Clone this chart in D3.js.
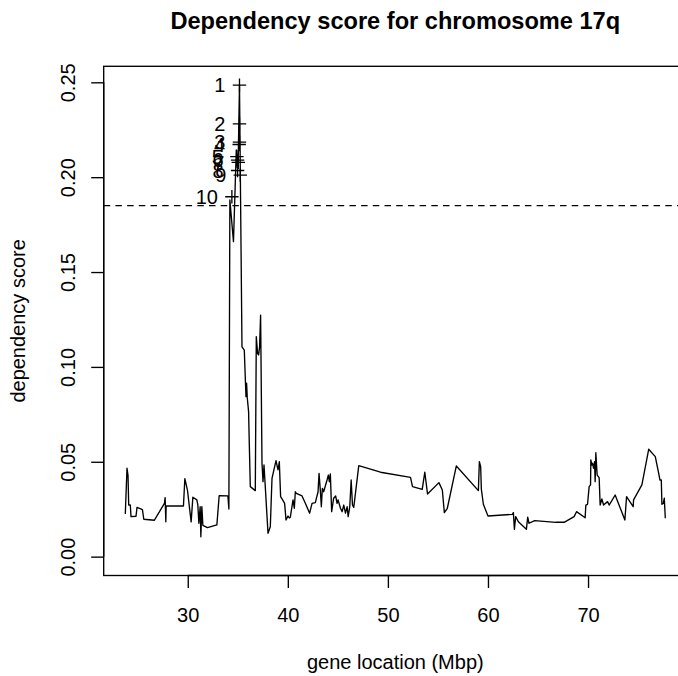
<!DOCTYPE html>
<html>
<head>
<meta charset="utf-8">
<script src="https://cdn.jsdelivr.net/npm/d3@7"></script>
<style>
  html, body { margin: 0; padding: 0; background: #fff; }
  svg { display: block; }
  text { font-family: "Liberation Sans", Arial, Helvetica, sans-serif; fill: #000; }
</style>
</head>
<body>
<svg id="chart" width="678" height="676"></svg>
<script>
// ---- data ----
const geneLocation = [
  23.76, 23.93, 24.03, 24.10, 24.26, 24.33, 24.83, 24.93, 25.47, 25.61,
  26.67, 27.67, 27.74, 27.81, 27.84, 29.57, 29.71, 29.97, 30.34, 30.51,
  30.91, 31.01, 31.11, 31.24, 31.31, 31.41, 31.51, 31.97, 32.91, 33.14,
  34.01, 34.11, 34.21, 34.57, 34.85, 34.95, 35.05, 35.17, 35.42, 35.65,
  35.82, 35.88, 35.95, 36.08, 36.15, 36.25, 36.75, 36.85, 36.98, 37.08,
  37.18, 37.28, 37.42, 37.52, 37.62, 38.02, 38.25, 38.42, 38.82, 39.02,
  39.15, 39.28, 39.48, 39.68, 39.82, 40.02, 40.15, 40.25, 40.52, 40.65,
  40.75, 40.85, 41.42, 41.75, 42.18, 42.42, 42.75, 43.02, 43.12, 43.25,
  43.35, 43.45, 43.58, 43.92, 44.05, 44.15, 44.25, 44.38, 44.58, 44.78,
  44.92, 45.02, 45.26, 45.43, 45.59, 45.76, 45.93, 46.03, 46.19, 46.33,
  46.46, 46.59, 47.09, 49.26, 52.26, 52.46, 53.43, 53.69, 53.96, 55.10,
  55.44, 55.64, 55.94, 56.84, 59.04, 59.14, 59.27, 59.34, 59.54, 60.00,
  62.44, 62.54, 62.64, 62.77, 63.04, 63.84, 63.97, 64.10, 64.67, 66.78,
  67.61, 68.61, 68.85, 69.71, 69.78, 69.95, 70.11, 70.25, 70.28, 70.38,
  70.45, 70.55, 70.65, 70.71, 70.78, 70.91, 71.11, 71.21, 71.38, 71.55,
  71.95, 72.11, 72.71, 73.68, 73.85, 74.51, 74.55, 75.38, 76.06, 76.72,
  77.06, 77.18, 77.32, 77.38, 77.52, 77.62, 77.72
];
const dependencyScore = [
  0.0225, 0.0466, 0.0429, 0.0272, 0.0272, 0.0211, 0.0213, 0.0260, 0.0248, 0.0197,
  0.0192, 0.0281, 0.0311, 0.0184, 0.0267, 0.0267, 0.0411, 0.0351, 0.0183, 0.0313,
  0.0299, 0.0271, 0.0176, 0.0263, 0.0105, 0.0263, 0.0165, 0.0153, 0.0167, 0.0321,
  0.0320, 0.0251, 0.1880, 0.1660, 0.2143, 0.2050, 0.2120, 0.2485, 0.1106, 0.1089,
  0.0843, 0.0914, 0.0836, 0.0764, 0.0597, 0.0369, 0.0348, 0.1159, 0.1070, 0.1063,
  0.1106, 0.1273, 0.0492, 0.0395, 0.0483, 0.0123, 0.0158, 0.0413, 0.0506, 0.0457,
  0.0500, 0.0316, 0.0299, 0.0281, 0.0193, 0.0214, 0.0204, 0.0208, 0.0299, 0.0255,
  0.0342, 0.0334, 0.0320, 0.0281, 0.0229, 0.0281, 0.0285, 0.0342, 0.0439, 0.0348,
  0.0263, 0.0360, 0.0342, 0.0404, 0.0430, 0.0395, 0.0436, 0.0237, 0.0308, 0.0320,
  0.0281, 0.0299, 0.0255, 0.0237, 0.0272, 0.0229, 0.0263, 0.0211, 0.0263, 0.0404,
  0.0272, 0.0260, 0.0480, 0.0445, 0.0418, 0.0369, 0.0355, 0.0445, 0.0330, 0.0390,
  0.0351, 0.0232, 0.0255, 0.0478, 0.0348, 0.0500, 0.0474, 0.0355, 0.0276, 0.0214,
  0.0223, 0.0232, 0.0144, 0.0211, 0.0184, 0.0144, 0.0208, 0.0176, 0.0190, 0.0181,
  0.0181, 0.0211, 0.0237, 0.0205, 0.0272, 0.0276, 0.0369, 0.0378, 0.0510, 0.0483,
  0.0492, 0.0466, 0.0500, 0.0395, 0.0548, 0.0430, 0.0416, 0.0272, 0.0304, 0.0272,
  0.0290, 0.0272, 0.0325, 0.0193, 0.0316, 0.0263, 0.0299, 0.0378, 0.0566, 0.0527,
  0.0439, 0.0404, 0.0404, 0.0276, 0.0281, 0.0308, 0.0202
];
// top-ranked genes (marked with + and rank label)
const topRank     = [1, 2, 3, 4, 5, 6, 7, 8, 9, 10];
const topLocation = [35.17, 35.17, 35.17, 35.14, 34.91, 34.98, 35.05, 34.98, 35.25, 34.41];
const topScore    = [0.2485, 0.2281, 0.2185, 0.2172, 0.2108, 0.2090, 0.2078, 0.2035, 0.2011, 0.1897];
const threshold = 0.185;
const xTicks = [30, 40, 50, 60, 70];
const yTicks = [0.00, 0.05, 0.10, 0.15, 0.20, 0.25];
const titleText = "Dependency score for chromosome 17q";
const xLabel = "gene location (Mbp)";
const yLabel = "dependency score";

(function () {
// ---- layout ----
const svg = d3.select("#chart");
const pL = 103.7, pR = 686.9, pT = 66.3, pB = 575.5;
const xMin = d3.min(geneLocation), xMax = d3.max(geneLocation);
const xPad = (xMax - xMin) * 0.04;
const yMax = d3.max(dependencyScore);
const yPad = yMax * 0.04;
const x = d3.scaleLinear().domain([xMin - xPad, xMax + xPad]).range([pL, pR]);
const y = d3.scaleLinear().domain([0 - yPad, yMax + yPad]).range([pB, pT]);

const FONT = 20;
const LW = 1.35;

svg.append("defs").append("clipPath").attr("id", "plotclip")
  .append("rect").attr("x", pL).attr("y", pT)
  .attr("width", pR - pL).attr("height", pB - pT);

const plot = svg.append("g").attr("clip-path", "url(#plotclip)");

// threshold line
plot.append("line")
  .attr("x1", pL).attr("x2", pR)
  .attr("y1", y(threshold)).attr("y2", y(threshold))
  .attr("stroke", "#000").attr("stroke-width", LW)
  .attr("stroke-dasharray", "6.5,5.2");

// data line
const pts = geneLocation.map((g, i) => [g, dependencyScore[i]]);
plot.append("path")
  .datum(pts)
  .attr("fill", "none").attr("stroke", "#000").attr("stroke-width", LW)
  .attr("stroke-linejoin", "round")
  .attr("d", d3.line().x(d => x(d[0])).y(d => y(d[1])));

// markers
const tops = topRank.map((r, i) => ({ r, gx: topLocation[i], s: topScore[i] }));
const ms = 6.7;
plot.append("g").selectAll("path").data(tops).join("path")
  .attr("fill", "none").attr("stroke", "#000").attr("stroke-width", LW)
  .attr("d", d => {
    const cx = x(d.gx), cy = y(d.s);
    return `M${cx - ms},${cy}H${cx + ms}M${cx},${cy - ms}V${cy + ms}`;
  });
svg.append("g").selectAll("text").data(tops).join("text")
  .attr("x", d => x(d.gx) - 14)
  .attr("y", d => y(d.s))
  .attr("dy", "0.36em")
  .attr("text-anchor", "end")
  .attr("font-size", FONT)
  .text(d => d.r);

// box
svg.append("rect")
  .attr("x", pL).attr("y", pT)
  .attr("width", pR - pL).attr("height", pB - pT)
  .attr("fill", "none").attr("stroke", "#000").attr("stroke-width", LW);

// x axis
const xAxis = svg.append("g").attr("transform", `translate(0,${pB})`)
  .call(d3.axisBottom(x).tickValues(xTicks).tickSize(12.5).tickPadding(0).tickFormat(d3.format("d")));
xAxis.attr("font-family", null).attr("font-size", null);
xAxis.select(".domain")
  .attr("d", `M${x(xTicks[0])},0H${x(xTicks[xTicks.length - 1])}`)
  .attr("stroke-width", LW);
xAxis.selectAll(".tick line").attr("stroke-width", LW);
xAxis.selectAll(".tick text")
  .attr("y", 46).attr("dy", null)
  .attr("font-size", FONT).attr("fill", "#000");

// y axis
const yAxis = svg.append("g").attr("transform", `translate(${pL},0)`)
  .call(d3.axisLeft(y).tickValues(yTicks).tickSize(12.5).tickFormat(d3.format(".2f")));
yAxis.attr("font-family", null).attr("font-size", null);
yAxis.select(".domain")
  .attr("d", `M0,${y(yTicks[0])}V${y(yTicks[yTicks.length - 1])}`)
  .attr("stroke-width", LW);
yAxis.selectAll(".tick line").attr("stroke-width", LW);
yAxis.selectAll(".tick text")
  .attr("x", null).attr("dy", null)
  .attr("transform", "translate(-29,0) rotate(-90)")
  .attr("text-anchor", "middle")
  .attr("font-size", FONT).attr("fill", "#000");

// titles
svg.append("text")
  .attr("x", (pL + pR) / 2).attr("y", 29)
  .attr("text-anchor", "middle")
  .attr("font-size", 23.6).attr("font-weight", "bold")
  .text(titleText);
svg.append("text")
  .attr("x", (pL + pR) / 2).attr("y", 669)
  .attr("text-anchor", "middle")
  .attr("font-size", FONT)
  .text(xLabel);
svg.append("text")
  .attr("transform", `translate(25,${(pT + pB) / 2}) rotate(-90)`)
  .attr("text-anchor", "middle")
  .attr("font-size", FONT)
  .text(yLabel);
})();
</script>
</body>
</html>
